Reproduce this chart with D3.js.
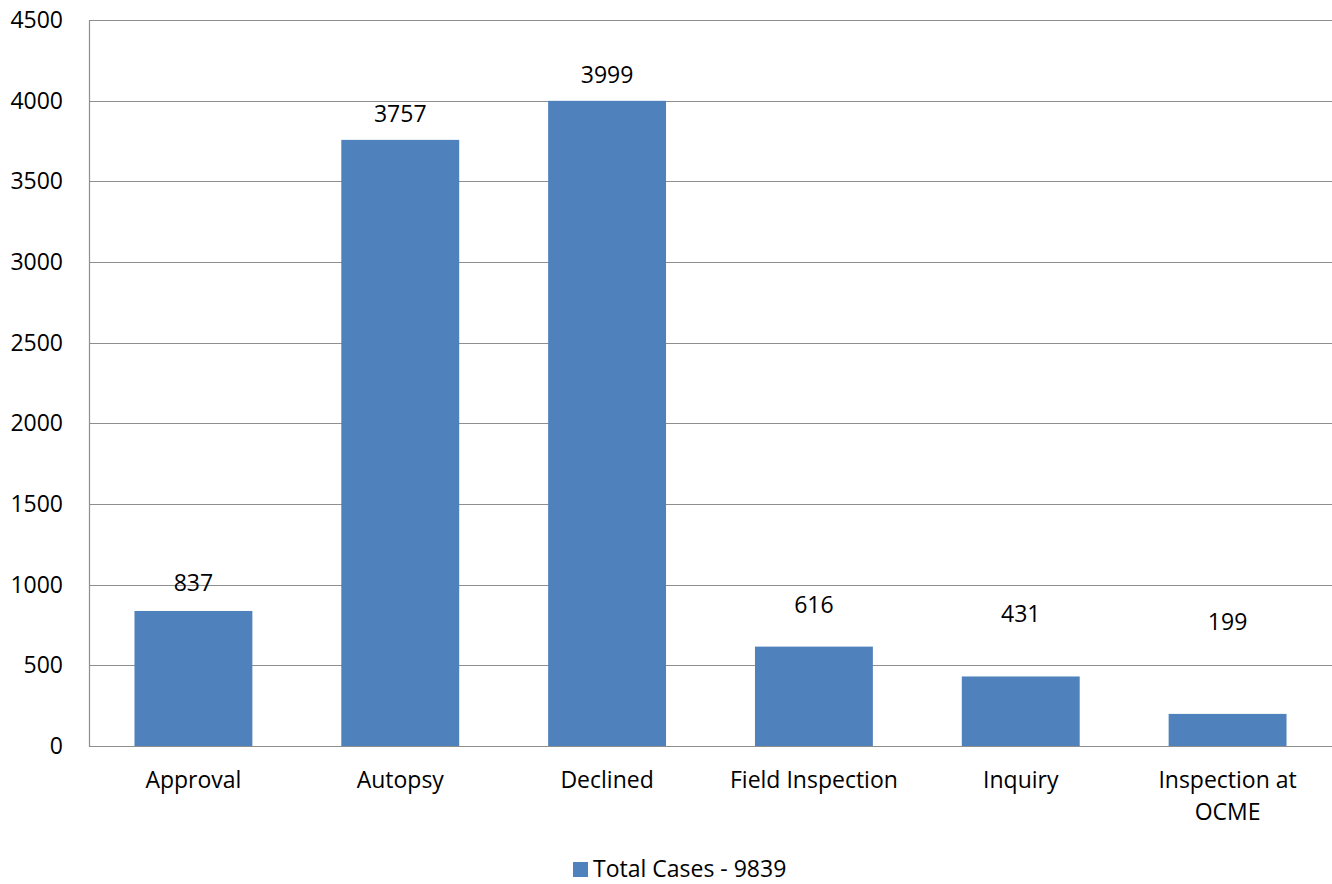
<!DOCTYPE html>
<html>
<head>
<meta charset="utf-8">
<script src="https://cdn.jsdelivr.net/npm/d3@7"></script>
<style>
  html, body { margin: 0; padding: 0; background: #fff; }
  svg { display: block; }
  text { font-family: "Open Sans", "Liberation Sans", Arial, sans-serif; fill: #000; }
</style>
</head>
<body>
<script>
const categories = ["Approval", "Autopsy", "Declined", "Field Inspection", "Inquiry", "Inspection at OCME"];
const values = [837, 3757, 3999, 616, 431, 199];
// where each data label sits, in value units
const labelAnchors = [1013, 3915, 4157, 874, 818, 769];
const yTicks = [0, 500, 1000, 1500, 2000, 2500, 3000, 3500, 4000, 4500];
const seriesName = "Total Cases - 9839";

const W = 1332, H = 884;
const m = { left: 90, right: 1, top: 20, bottom: 138 };
const FS = 23;

const svg = d3.select("body").append("svg").attr("width", W).attr("height", H);

const x = d3.scaleBand().domain(categories).range([m.left, W - m.right]).paddingInner(0.43).paddingOuter(0.215);
const y = d3.scaleLinear().domain([0, 4500]).range([H - m.bottom, m.top]);

// gridlines
svg.append("g").selectAll("line").data(yTicks).join("line")
  .attr("x1", m.left).attr("x2", W)
  .attr("y1", d => Math.round(y(d)) + 0.5).attr("y2", d => Math.round(y(d)) + 0.5)
  .attr("stroke", "#8e8e8e").attr("stroke-width", 1.2);

// left axis line
svg.append("line")
  .attr("x1", m.left - 0.5).attr("x2", m.left - 0.5)
  .attr("y1", y(4500)).attr("y2", y(0) + 1)
  .attr("stroke", "#8e8e8e").attr("stroke-width", 1.2);

// y tick labels
svg.append("g").selectAll("text").data(yTicks).join("text")
  .attr("x", 63).attr("y", d => y(d)).attr("dy", "0.35em")
  .attr("text-anchor", "end").attr("font-size", FS)
  .text(d => d);

// bars
svg.append("g").selectAll("rect").data(values).join("rect")
  .attr("x", (d, i) => x(categories[i]))
  .attr("width", x.bandwidth())
  .attr("y", d => y(d))
  .attr("height", d => y(0) - y(d))
  .attr("fill", "#4F81BD");

// redraw baseline over bars
svg.append("line")
  .attr("x1", m.left).attr("x2", W)
  .attr("y1", Math.round(y(0)) + 0.5).attr("y2", Math.round(y(0)) + 0.5)
  .attr("stroke", "#8e8e8e").attr("stroke-width", 1.2);

// value labels
svg.append("g").selectAll("text").data(values).join("text")
  .attr("x", (d, i) => x(categories[i]) + x.bandwidth() / 2)
  .attr("y", (d, i) => y(labelAnchors[i]))
  .attr("dy", "0.35em")
  .attr("text-anchor", "middle").attr("font-size", FS)
  .text(d => d);

// category labels (wrapped)
const wrapMap = { "Inspection at OCME": ["Inspection at", "OCME"] };
const cat = svg.append("g").selectAll("text").data(categories).join("text")
  .attr("x", d => x(d) + x.bandwidth() / 2)
  .attr("y", 780)
  .attr("text-anchor", "middle").attr("font-size", FS);
cat.each(function(d) {
  const lines = wrapMap[d] || [d];
  const t = d3.select(this);
  lines.forEach((l, i) => {
    t.append("tspan").attr("x", x(d) + x.bandwidth() / 2).attr("dy", i === 0 ? "0.35em" : 32).text(l);
  });
});

// legend
const lg = svg.append("g");
lg.append("rect").attr("x", 573).attr("y", 862).attr("width", 15).attr("height", 15).attr("fill", "#4F81BD");
lg.append("text").attr("x", 593).attr("y", 869).attr("dy", "0.35em").attr("font-size", FS).text(seriesName);
</script>
</body>
</html>
